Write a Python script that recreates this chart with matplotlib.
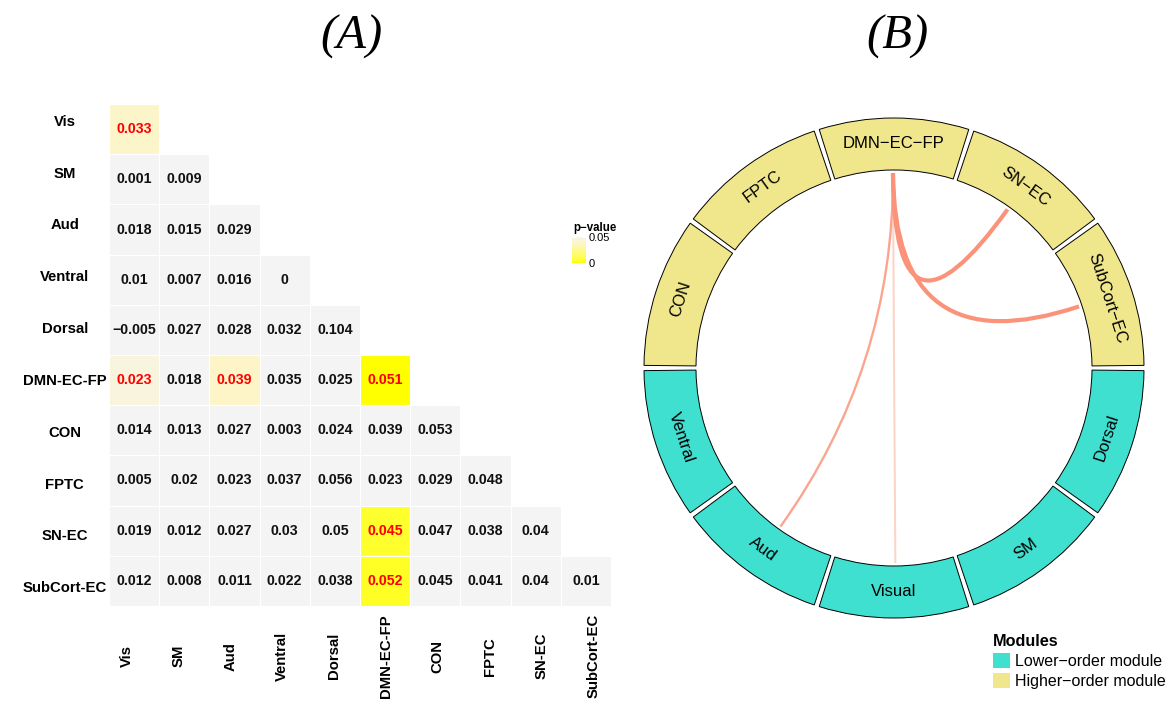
import matplotlib
matplotlib.use('Agg')
import matplotlib.pyplot as plt
import numpy as np
from matplotlib.patches import Rectangle, Wedge, Patch, PathPatch
from matplotlib.path import Path
from matplotlib.colors import LinearSegmentedColormap, Normalize
from matplotlib.cm import ScalarMappable

plt.rcParams['font.family'] = ['Liberation Sans', 'DejaVu Sans']

# ---- panel A data: lower triangle of the matrix ----
modules = ['Vis', 'SM', 'Aud', 'Ventral', 'Dorsal', 'DMN-EC-FP', 'CON', 'FPTC', 'SN-EC', 'SubCort-EC']
coef_rows = [
    [0.033],
    [0.001, 0.009],
    [0.018, 0.015, 0.029],
    [0.01, 0.007, 0.016, 0],
    [-0.005, 0.027, 0.028, 0.032, 0.104],
    [0.023, 0.018, 0.039, 0.035, 0.025, 0.051],
    [0.014, 0.013, 0.027, 0.003, 0.024, 0.039, 0.053],
    [0.005, 0.02, 0.023, 0.037, 0.056, 0.023, 0.029, 0.048],
    [0.019, 0.012, 0.027, 0.03, 0.05, 0.045, 0.047, 0.038, 0.04],
    [0.012, 0.008, 0.011, 0.022, 0.038, 0.052, 0.045, 0.041, 0.04, 0.01],
]
# significant cells (p < 0.05)
sig_row = [0, 5, 5, 5, 8, 9]
sig_col = [0, 0, 2, 5, 5, 5]
sig_p = [0.038, 0.047, 0.037, 0.0, 0.005, 0.004]

# ---- panel B data ----
sectors = ['Dorsal', 'SM', 'Visual', 'Aud', 'Ventral', 'CON', 'FPTC', 'DMN\u2212EC\u2212FP', 'SN\u2212EC', 'SubCort\u2212EC']
sector_group = ['lower'] * 5 + ['higher'] * 5
link_source = 'DMN\u2212EC\u2212FP'
link_targets = ['Visual', 'Aud', 'SN\u2212EC', 'SubCort\u2212EC']
link_values = [0.023, 0.039, 0.045, 0.052]

lower_color = '#40E0D0'
higher_color = '#F0E68C'

W, H = 1170, 705
fig = plt.figure(figsize=(W / 100, H / 100), dpi=100)


def box(x0, y0, x1, y1):
    # pixel box -> figure fraction rect
    return [x0 / W, 1 - y1 / H, (x1 - x0) / W, (y1 - y0) / H]


# ================= panel A =================
ax = fig.add_axes(box(109, 104, 611, 606))
ax.set_xlim(0, 10)
ax.set_ylim(10, 0)
ax.axis('off')

p_cmap = LinearSegmentedColormap.from_list(
    'pv', [(0, '#FFFF00'), (0.12, '#FFFF38'), (0.75, '#FDF5C9'), (1, '#F7F4E3')])
p_norm = Normalize(0, 0.05)
sig = {(r, c): p for r, c, p in zip(sig_row, sig_col, sig_p)}

for i, row in enumerate(coef_rows):
    for j, v in enumerate(row):
        if (i, j) in sig:
            fc = p_cmap(p_norm(sig[(i, j)]))
            tc = '#FF0000'
        else:
            fc = '#F4F4F4'
            tc = '#111111'
        ax.add_patch(Rectangle((j, i), 1, 1, facecolor=fc, edgecolor='white', lw=0.8))
        ax.text(j + 0.5, i + 0.5, f'{v:g}'.replace('-', '\u2212'), ha='center', va='center',
                fontsize=10.2, fontweight='bold', color=tc)

n = len(modules)
for k, name in enumerate(modules):
    pos = n / 2 + (k + 0.5 - n / 2) * 1.032
    ax.text(-0.88, pos, name, ha='center', va='center', fontsize=10.7, fontweight='bold',
            clip_on=False)
    ax.text(pos, 11.0, name, ha='center', va='center', rotation=90, fontsize=10.7,
            fontweight='bold', clip_on=False)

# colour bar
cax = fig.add_axes(box(572, 237, 586, 263))
cb = fig.colorbar(ScalarMappable(norm=p_norm, cmap=p_cmap), cax=cax, ticks=[0, 0.05])
cb.outline.set_visible(False)
cax.set_yticklabels(['0', '0.05'])
cax.tick_params(left=True, right=True, direction='in', length=3, width=0.8,
                color='white', labelsize=8, pad=2)
fig.text(573 / W, 1 - 228 / H, 'p\u2212value', fontsize=8.3, fontweight='bold',
         ha='left', va='center')

fig.text(351 / W, 1 - 37 / H, '(A)', fontsize=35, style='italic',
         family='Liberation Serif', ha='center', va='center')
fig.text(897 / W, 1 - 37 / H, '(B)', fontsize=35, style='italic',
         family='Liberation Serif', ha='center', va='center')

# ================= panel B =================
bx = fig.add_axes(box(634, 108, 1154, 628))
bx.set_xlim(-1.04, 1.04)
bx.set_ylim(-1.04, 1.04)
bx.axis('off')

r_out, r_in = 1.0, 0.792
gap = 1.2
step = 360 / len(sectors)
centre_ang = {}
for i, (name, grp) in enumerate(zip(sectors, sector_group)):
    c = -step / 2 - step * i
    centre_ang[name] = c
    col = lower_color if grp == 'lower' else higher_color
    bx.add_patch(Wedge((0, 0), r_out, c - step / 2 + gap / 2, c + step / 2 - gap / 2,
                       width=r_out - r_in, facecolor=col, edgecolor='black', lw=0.7))
    a = np.deg2rad(c)
    rm = (r_out + r_in) / 2
    rot = c - 90 if np.sin(a) > 0 else c + 90
    bx.text(rm * np.cos(a), rm * np.sin(a), name, rotation=rot, ha='center', va='center',
            rotation_mode='anchor', fontsize=12)

link_cmap = LinearSegmentedColormap.from_list('lk', ['#FDDBD0', '#FA9379'])
link_norm = Normalize(0.02, 0.045)
r_link = 0.78
for tgt, v in zip(link_targets, link_values):
    a0 = np.deg2rad(centre_ang[link_source] + 0.3)
    a1 = np.deg2rad(centre_ang[tgt] + 0.4)
    verts = [(r_link * np.cos(a0), r_link * np.sin(a0)), (0, 0),
             (r_link * np.cos(a1), r_link * np.sin(a1))]
    path = Path(verts, [Path.MOVETO, Path.CURVE3, Path.CURVE3])
    lw = np.interp(v, [0.02, 0.04, 0.045], [1.4, 1.7, 3.0])
    bx.add_patch(PathPatch(path, facecolor='none', edgecolor=link_cmap(link_norm(v)),
                           lw=lw, capstyle='butt'))

handles = [Patch(facecolor=lower_color, edgecolor='none'),
           Patch(facecolor=higher_color, edgecolor='none')]
fig.legend(handles, ['Lower\u2212order module', 'Higher\u2212order module'], title='Modules',
           loc='upper left', bbox_to_anchor=(993 / W, 1 - 634 / H), frameon=False,
           fontsize=11.5, title_fontproperties={'weight': 'bold', 'size': 11.7},
           alignment='left', handlelength=1.05, handleheight=1.1, handletextpad=0.3,
           labelspacing=0.25, borderpad=0, borderaxespad=0)

fig.savefig('out.png', dpi=100)
